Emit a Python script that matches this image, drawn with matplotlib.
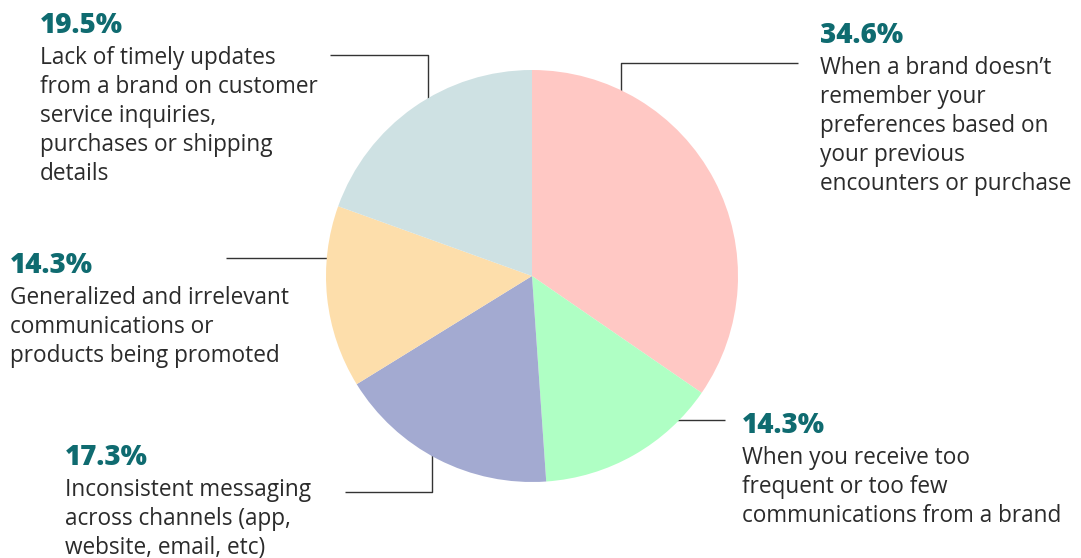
import matplotlib.pyplot as plt

W, H = 1081, 558

# Share of respondents per frustration, clockwise from 12 o'clock
shares = [34.6, 14.3, 17.3, 14.3, 19.5]
colors = ['#FFC8C4', '#AFFFC4', '#A3AAD1', '#FDDEAB', '#CEE1E3']
descriptions = [
    ["When a brand doesn\u2019t", "remember your", "preferences based on",
     "your previous", "encounters or purchase"],
    ["When you receive too", "frequent or too few",
     "communications from a brand"],
    ["Inconsistent messaging", "across channels (app,",
     "website, email, etc)"],
    ["Generalized and irrelevant", "communications or",
     "products being promoted"],
    ["Lack of timely updates", "from a brand on customer",
     "service inquiries,", "purchases or shipping", "details"],
]

# label block anchors in pixels from the top-left: x, baseline of the percent
label_pos = [(820, 43), (742, 433), (65, 465), (10, 273), (40, 33)]
# leader line elbows, pixels from the top-left
leaders = [
    [(798, 63), (621, 63), (621, 130)],
    [(725, 420), (650, 420)],
    [(345, 492), (432, 492), (432, 440)],
    [(226, 258), (360, 258)],
    [(330, 55), (428, 55), (428, 130)],
]

teal = '#0F6B70'
ink = '#2B2B2B'

fig = plt.figure(figsize=(W / 100, H / 100), dpi=100)
ax = fig.add_axes([0, 0, 1, 1])

ax.pie(shares, colors=colors, startangle=90, counterclock=False,
       center=(532, H - 276), radius=206,
       wedgeprops=dict(linewidth=0, zorder=2))
ax.set_xlim(0, W)
ax.set_ylim(0, H)
ax.set_aspect('equal')
ax.axis('off')

for pts in leaders:
    xs = [p[0] for p in pts]
    ys = [H - p[1] for p in pts]
    ax.plot(xs, ys, color='#333333', lw=1.0, zorder=1,
            solid_capstyle='butt')

for share, lines, (x, y) in zip(shares, descriptions, label_pos):
    ax.text(x, H - y, f"{share}%", color=teal, fontsize=20,
            fontweight='heavy', family='Open Sans', va='baseline', ha='left')
    for i, line in enumerate(lines):
        ax.text(x, H - (y + 31 + 29 * i), line, color=ink, fontsize=16.3,
                family='Open Sans', va='baseline', ha='left')

fig.savefig('out.png', dpi=100, facecolor='white')
